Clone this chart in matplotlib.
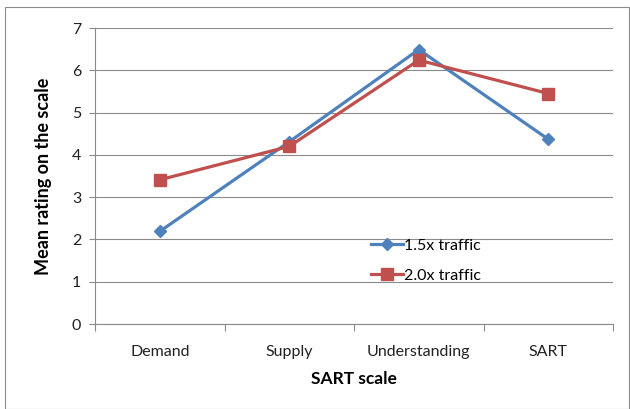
import numpy as np
import matplotlib
matplotlib.use("Agg")
import matplotlib.pyplot as plt
from matplotlib.patches import Rectangle

# data
categories = ["Demand", "Supply", "Understanding", "SART"]
traffic_15 = [2.19, 4.31, 6.49, 4.37]
traffic_20 = [3.41, 4.20, 6.24, 5.45]
series_names = ["1.5x traffic", "2.0x traffic"]
y_ticks = [0, 1, 2, 3, 4, 5, 6, 7]

plt.rcParams['font.family'] = ['Lato', 'DejaVu Sans']

fig = plt.figure(figsize=(6.30, 4.09), dpi=100)
W, H = 630, 409

# outer chart border (grey frame like the Excel chart area)
fig.patches.append(Rectangle((5 / W, 0), (W - 6) / W, 1 - 7 / H, transform=fig.transFigure,
                             fill=False, edgecolor="#8c8c8c", linewidth=0.8))

ax = fig.add_axes([95 / W, 1 - 324 / H, (613 - 95) / W, (324 - 28) / H])

x = np.arange(len(categories))
ax.plot(x, traffic_15, color="#4F81BD", linewidth=2.3, marker="D", markersize=6,
        label=series_names[0], zorder=3)
ax.plot(x, traffic_20, color="#C0504D", linewidth=2.3, marker="s", markersize=8,
        label=series_names[1], zorder=4)

ax.set_xlim(-0.5, len(categories) - 0.5)
ax.set_ylim(0, 7)
ax.set_yticks(y_ticks)
ax.set_xticks(np.arange(len(categories) + 1) - 0.5, minor=False)
ax.set_xticklabels([])
ax.set_xticks(x, minor=True)
ax.set_xticklabels(categories, minor=True)

ax.yaxis.grid(True, color="#8a8a8a", linewidth=0.8)
ax.set_axisbelow(True)
for side in ["top", "right"]:
    ax.spines[side].set_visible(False)
ax.spines["left"].set_color("#8a8a8a")
ax.spines["bottom"].set_color("#8a8a8a")

ax.tick_params(axis="y", which="major", length=4, color="#8a8a8a", labelsize=11.5,
               labelcolor="#222222", pad=6)
ax.tick_params(axis="x", which="major", length=5, color="#8a8a8a", direction="out")
ax.tick_params(axis="x", which="minor", length=0, labelsize=11.5, labelcolor="#222222", pad=15)

ax.set_xlabel("SART scale", fontsize=12.5, fontweight="bold", labelpad=9)
ax.set_ylabel("Mean rating on the scale", fontsize=13, fontweight="bold", labelpad=14)

leg = ax.legend(loc="upper left", bbox_to_anchor=(0.52, 0.31), frameon=False,
                fontsize=11.5, handlelength=2.0, handletextpad=0.1, labelspacing=1.0,
                borderaxespad=0)

fig.savefig("out.png", dpi=100)
